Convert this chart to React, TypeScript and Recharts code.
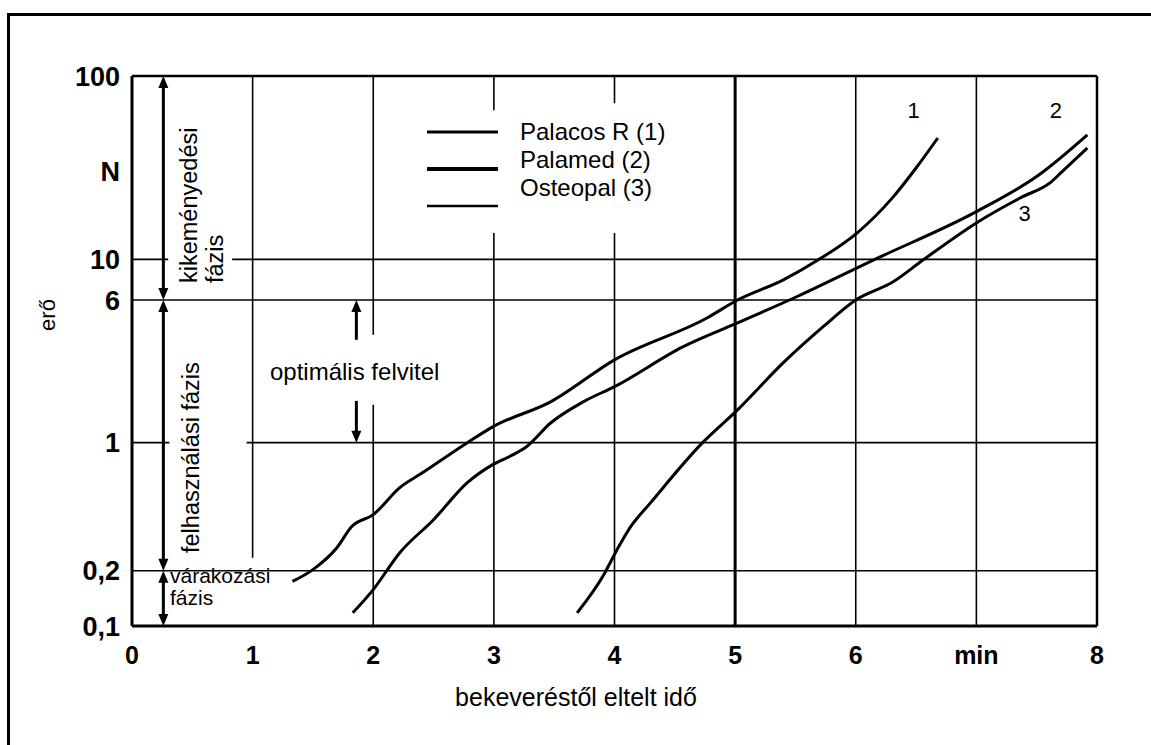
import React from 'react';
import { LineChart, Line, XAxis, YAxis, ReferenceLine, ReferenceDot, Legend } from 'recharts';

// Palacos R (1) – idő (min) / erő (N)
const palacosTime = [1.33, 1.5, 1.7, 1.82, 2.0, 2.22, 2.41, 2.78, 2.99, 3.47, 4.0, 4.77, 5.02, 5.4, 5.69, 6.01, 6.3, 6.5, 6.68];
const palacosForce = [0.175, 0.203, 0.268, 0.348, 0.405, 0.569, 0.687, 1.0, 1.22, 1.67, 2.83, 4.8, 6.0, 7.73, 9.94, 13.9, 21.5, 31.5, 45.9];

// Palamed (2)
const palamedTime = [1.83, 2.0, 2.22, 2.5, 2.78, 2.99, 3.16, 3.27, 3.47, 3.74, 4.0, 4.57, 5.02, 5.51, 6.15, 7.0, 7.52, 7.92];
const palamedForce = [0.118, 0.158, 0.251, 0.38, 0.605, 0.759, 0.86, 0.95, 1.28, 1.67, 2.02, 3.34, 4.5, 6.25, 9.94, 18.2, 28.9, 47.7];

// Osteopal (3)
const osteopalTime = [3.69, 3.91, 4.02, 4.13, 4.3, 4.73, 5.02, 5.4, 5.73, 6.0, 6.31, 6.56, 7.0, 7.38, 7.61, 7.7, 7.92];
const osteopalForce = [0.118, 0.19, 0.26, 0.345, 0.471, 1.0, 1.51, 2.73, 4.29, 6.0, 7.54, 9.94, 15.8, 21.9, 26.1, 29.6, 40.5];

const seriesNames = ['Palacos R (1)', 'Palamed (2)', 'Osteopal (3)'];
const curveLabels = ['1', '2', '3'];

const xTicks = [0, 1, 2, 3, 4, 5, 6, 7, 8];
const xTickLabels = ['0', '1', '2', '3', '4', '5', '6', 'min', '8'];
const yTicks = [0.1, 0.2, 1, 6, 10, 30, 100];
const yTickLabels = ['0,1', '0,2', '1', '6', '10', 'N', '100'];

const toPoints = (xs: number[], ys: number[]) => xs.map((x, i) => ({ x, y: ys[i] }));
const palacos = toPoints(palacosTime, palacosForce);
const palamed = toPoints(palamedTime, palamedForce);
const osteopal = toPoints(osteopalTime, osteopalForce);

const SANS = '"Liberation Sans", Arial, sans-serif';
const TICKFONT = '"Liberation Sans", Arial, sans-serif';

// gridline pieces (the drawing leaves gaps for the texts)
const hGrid = [
  { y: 10, parts: [[0, 0.3], [0.83, 8]] },
  { y: 6, parts: [[0, 8]] },
  { y: 1, parts: [[0, 0.31], [0.95, 8]] },
  { y: 0.2, parts: [[0, 8]] },
];
const vGrid = [
  { x: 1, parts: [[0.236, 100]], w: 1.6 },
  { x: 2, parts: [[0.1, 1.61], [3.88, 100]], w: 1.6 },
  { x: 3, parts: [[0.1, 13.9], [65, 100]], w: 1.6 },
  { x: 4, parts: [[0.1, 13.9], [71, 100]], w: 1.6 },
  { x: 5, parts: [[0.1, 100]], w: 3 },
  { x: 6, parts: [[0.1, 100]], w: 1.6 },
  { x: 7, parts: [[0.1, 100]], w: 1.6 },
];

const ArrowShape = (props: any) => {
  const { x1, y1, x2, y2, up, down } = props;
  const top = Math.min(y1, y2);
  const bot = Math.max(y1, y2);
  const x = x1;
  const h = 12;
  const hw = 5;
  return (
    <g>
      <line x1={x} y1={up ? top + h - 2 : top} x2={x} y2={down ? bot - h + 2 : bot} stroke="#000" strokeWidth={3} />
      {up && <polygon points={`${x},${top} ${x - hw},${top + h} ${x + hw},${top + h}`} fill="#000" />}
      {down && <polygon points={`${x},${bot} ${x - hw},${bot - h} ${x + hw},${bot - h}`} fill="#000" />}
    </g>
  );
};

const legendWidths = [3, 4, 2.5];
const renderLegend = (props: any) => {
  const items = [...(props.payload || [])].sort(
    (a: any, b: any) => seriesNames.indexOf(a.value) - seriesNames.indexOf(b.value)
  );
  return (
    <svg width={320} height={110}>
      {items.map((it: any, i: number) => (
        <g key={i}>
          <line x1={7} x2={78} y1={22 + 37 * i} y2={22 + 37 * i} stroke="#000" strokeWidth={legendWidths[i]} />
          <text x={100} y={30 + 28 * i} fontSize={24} fontFamily={SANS} fill="#000">
            {it.value}
          </text>
        </g>
      ))}
    </svg>
  );
};

export default function App() {
  return (
    <div style={{ position: 'relative', width: 1151, height: 745, overflow: 'hidden', background: '#fff' }}>
      <style>{'body{margin:0;background:#fff}'}</style>
      <div style={{ position: 'absolute', left: 7, top: 13, width: 1200, height: 800, border: '3px solid #000' }} />
      <div style={{ position: 'absolute', left: 0, top: 0 }}>
        <LineChart width={1151} height={745} margin={{ top: 76, right: 54, bottom: 89, left: 72 }}>
          <XAxis
            type="number"
            dataKey="x"
            domain={[0, 8]}
            ticks={xTicks}
            tickFormatter={(v: number) => xTickLabels[xTicks.indexOf(v)]}
            axisLine={false}
            tickLine={false}
            tickMargin={14}
            height={30}
            tick={{ fontSize: 25, fontWeight: 'bold', fontFamily: TICKFONT, fill: '#000' }}
          />
          <YAxis
            type="number"
            dataKey="y"
            scale="log"
            domain={[0.1, 100]}
            allowDataOverflow
            ticks={yTicks}
            tickFormatter={(v: number) => yTickLabels[yTicks.indexOf(v)]}
            axisLine={false}
            tickLine={false}
            tickMargin={6}
            width={60}
            tick={{ fontSize: 27, fontWeight: 'bold', fontFamily: TICKFONT, fill: '#000' }}
          />

          {hGrid.map((g) =>
            g.parts.map((p, j) => (
              <ReferenceLine
                key={`h${g.y}-${j}`}
                segment={[{ x: p[0], y: g.y }, { x: p[1], y: g.y }]}
                stroke="#000"
                strokeWidth={1.6}
              />
            ))
          )}
          {vGrid.map((g) =>
            g.parts.map((p, j) => (
              <ReferenceLine
                key={`v${g.x}-${j}`}
                segment={[{ x: g.x, y: p[0] }, { x: g.x, y: p[1] }]}
                stroke="#000"
                strokeWidth={g.w}
              />
            ))
          )}

          {/* plot frame */}
          <ReferenceLine x={0} stroke="#000" strokeWidth={3} />
          <ReferenceLine x={8} stroke="#000" strokeWidth={2.5} />
          <ReferenceLine y={0.1} stroke="#000" strokeWidth={3} />
          <ReferenceLine y={100} stroke="#000" strokeWidth={2.5} />

          {/* phase arrows */}
          <ReferenceLine segment={[{ x: 0.26, y: 100 }, { x: 0.26, y: 6 }]} shape={(p: any) => <ArrowShape {...p} up down />} />
          <ReferenceLine segment={[{ x: 0.26, y: 6 }, { x: 0.26, y: 0.2 }]} shape={(p: any) => <ArrowShape {...p} up down />} />
          <ReferenceLine segment={[{ x: 0.26, y: 0.2 }, { x: 0.26, y: 0.1 }]} shape={(p: any) => <ArrowShape {...p} up down />} />
          <ReferenceLine segment={[{ x: 1.86, y: 6 }, { x: 1.86, y: 3.64 }]} shape={(p: any) => <ArrowShape {...p} up />} />
          <ReferenceLine segment={[{ x: 1.86, y: 1.69 }, { x: 1.86, y: 1 }]} shape={(p: any) => <ArrowShape {...p} down />} />

          <Line data={palacos} dataKey="y" name={seriesNames[0]} type="monotone" stroke="#000" strokeWidth={3} dot={false} isAnimationActive={false} />
          <Line data={palamed} dataKey="y" name={seriesNames[1]} type="monotone" stroke="#000" strokeWidth={3} dot={false} isAnimationActive={false} />
          <Line data={osteopal} dataKey="y" name={seriesNames[2]} type="monotone" stroke="#000" strokeWidth={3} dot={false} isAnimationActive={false} />

          <ReferenceDot x={6.48} y={65.3} r={0} label={{ value: curveLabels[0], position: 'center', fontSize: 22, fontFamily: SANS, fill: '#000' }} />
          <ReferenceDot x={7.66} y={65.3} r={0} label={{ value: curveLabels[1], position: 'center', fontSize: 22, fontFamily: SANS, fill: '#000' }} />
          <ReferenceDot x={7.4} y={17.9} r={0} label={{ value: curveLabels[2], position: 'center', fontSize: 22, fontFamily: SANS, fill: '#000' }} />

          <Legend
            layout="vertical"
            align="center"
            verticalAlign="middle"
            content={renderLegend}
            wrapperStyle={{ position: 'absolute', left: 420, top: 110, width: 320, height: 110 }}
          />
        </LineChart>
      </div>
      <svg width={1151} height={745} style={{ position: 'absolute', left: 0, top: 0, pointerEvents: 'none' }} fontFamily={SANS} fill="#000">
        <text x={55} y={315} fontSize={22} textAnchor="middle" transform="rotate(-90 55 315)">erő</text>
        <text x={576} y={706} fontSize={25} textAnchor="middle">bekeveréstől eltelt idő</text>
        <text x={197} y={283} fontSize={23.5} transform="rotate(-90 197 283)">kikeményedési</text>
        <text x={223} y={283} fontSize={23.5} transform="rotate(-90 223 283)">fázis</text>
        <text x={199} y={553} fontSize={23.5} transform="rotate(-90 199 553)">felhasználási fázis</text>
        <text x={170} y={583} fontSize={21}>várakozási</text>
        <text x={170} y={605} fontSize={21}>fázis</text>
        <text x={270} y={380} fontSize={24}>optimális felvitel</text>
      </svg>
    </div>
  );
}
